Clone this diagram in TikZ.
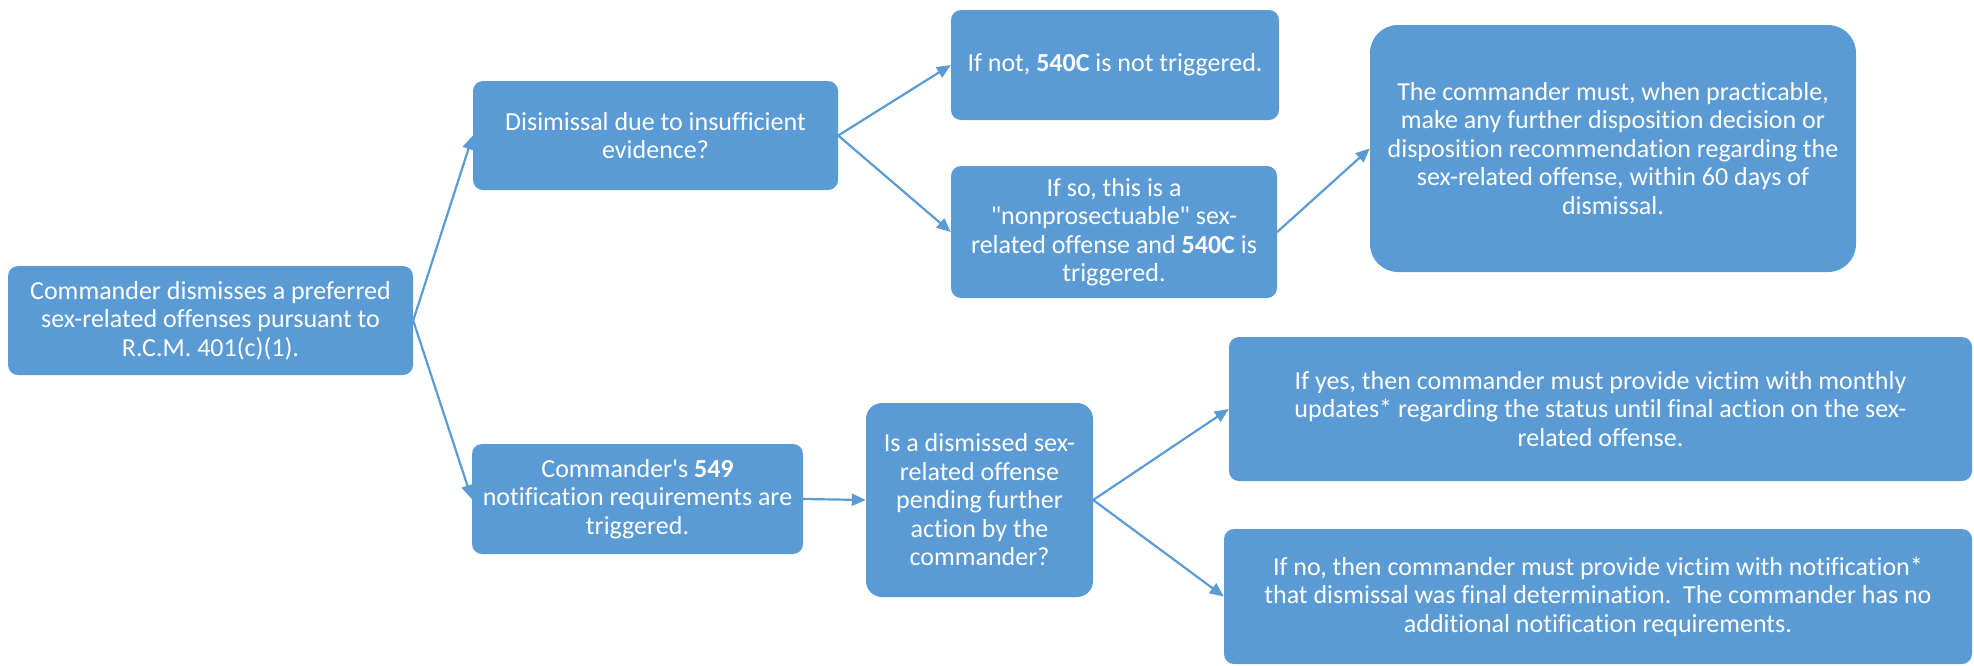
\documentclass[tikz,border=0pt]{standalone}
\usepackage{fontspec}
\setmainfont{Carlito}[Ligatures={TeXOff,NoCommon}]
\usetikzlibrary{arrows.meta}
\definecolor{obl}{HTML}{5B9BD5}
\begin{document}
\begin{tikzpicture}[x=1pt,y=-1pt,
  box/.style={fill=obl, rounded corners=10pt, text=white, align=center, inner sep=0pt,
    font=\fontsize{26}{28.5}\selectfont},
  conn/.style={draw=obl, line width=2.2pt, -{Triangle[length=14pt,width=12pt]}}]
\useasboundingbox (0,0) rectangle (1974,665);
\node[box, minimum width=405pt, minimum height=109pt] (A) at (210.5,320.5)
  {Commander dismisses a preferred\\sex-related offenses pursuant to\\R.C.M. 401(c)(1).};
\node[box, minimum width=365pt, minimum height=109pt] (B) at (655.5,135.5)
  {Disimissal due to insufficient\\evidence?};
\node[box, minimum width=328pt, minimum height=110pt] (C) at (1115,65)
  {If not, \textbf{540C} is not triggered.};
\node[box, minimum width=326pt, minimum height=132pt] (D) at (1114,232)
  {If so, this is a\\"nonprosectuable" sex-\\related offense and \textbf{540C} is\\triggered.};
\node[box, rounded corners=28pt, minimum width=486pt, minimum height=247pt] (E) at (1613,148.5)
  {The commander must, when practicable,\\make any further disposition decision or\\disposition recommendation regarding the\\sex-related offense, within 60 days of\\dismissal.};
\node[box, minimum width=331pt, minimum height=110pt] (F) at (637.5,499)
  {Commander's \textbf{549}\\notification requirements are\\triggered.};
\node[box, rounded corners=16pt, minimum width=227pt, minimum height=194pt] (G) at (979.5,500)
  {Is a dismissed sex-\\related offense\\pending further\\action by the\\commander?};
\node[box, minimum width=743pt, minimum height=144pt] (H) at (1600.5,409)
  {If yes, then commander must provide victim with monthly\\updates* regarding the status until final action on the sex-\\related offense.};
\node[box, minimum width=748pt, minimum height=135pt] (I) at (1598,596.5)
  {If no, then commander must provide victim with notification*\\that dismissal was final determination.\ \ The commander has no\\additional notification requirements.};
\draw[conn] (A.east) -- (B.west);
\draw[conn] (A.east) -- (F.west);
\draw[conn] (B.east) -- (C.west);
\draw[conn] (B.east) -- (D.west);
\draw[conn] (D.east) -- (E.west);
\draw[conn] (F.east) -- (G.west);
\draw[conn] (G.east) -- (H.west);
\draw[conn] (G.east) -- (I.west);
\end{tikzpicture}
\end{document}
